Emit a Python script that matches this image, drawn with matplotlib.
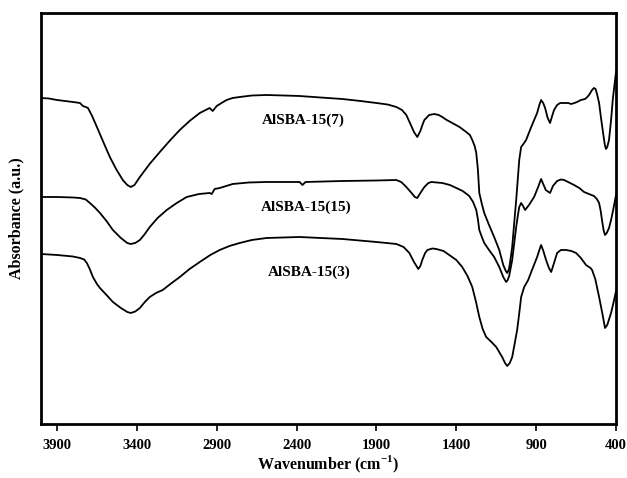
import matplotlib
matplotlib.use('Agg')
import matplotlib.pyplot as plt

plt.rcParams['font.family'] = 'Liberation Serif'
plt.rcParams['font.weight'] = 'bold'
plt.rcParams['mathtext.fontset'] = 'custom'
plt.rcParams['mathtext.rm'] = 'Liberation Serif:bold'
plt.rcParams['mathtext.bf'] = 'Liberation Serif:bold'

# AlSBA-15(7) - top trace
wn_7 = [4000, 3950, 3900, 3850, 3800, 3756, 3738, 3720, 3706, 3680, 3650, 3610, 3569,
        3530, 3488, 3460, 3438, 3415, 3381, 3320, 3256, 3190, 3131, 3070, 3006, 2944,
        2925, 2900, 2870, 2838, 2800, 2756, 2680, 2588, 2480, 2381, 2250, 2113, 2000,
        1900, 1830, 1775, 1740, 1713, 1690, 1665, 1644, 1625, 1610, 1600, 1570, 1538,
        1510, 1488, 1460, 1425, 1380, 1338, 1315, 1300, 1285, 1275, 1265, 1256, 1240,
        1225, 1195, 1163, 1131, 1106, 1090, 1081, 1070, 1063, 1050, 1038, 1025, 1015,
        1006, 994, 980, 963, 931, 910, 894, 880, 869, 856, 844, 828, 813, 800, 788,
        769, 750, 725, 700, 681, 660, 644, 620, 594, 580, 569, 550, 538, 528, 519, 506,
        494, 481, 470, 463, 455, 444, 431, 420, 406, 400]
abs_7 = [3.26, 3.255, 3.24, 3.23, 3.22, 3.21, 3.18, 3.17, 3.16, 3.08, 2.97, 2.82, 2.67,
         2.55, 2.44, 2.39, 2.37, 2.39, 2.47, 2.60, 2.72, 2.84, 2.94, 3.03, 3.11, 3.16,
         3.13, 3.18, 3.21, 3.24, 3.26, 3.27, 3.285, 3.29, 3.285, 3.28, 3.265, 3.25, 3.23,
         3.21, 3.195, 3.17, 3.14, 3.09, 3.01, 2.92, 2.87, 2.93, 3.00, 3.04, 3.09, 3.10,
         3.09, 3.07, 3.04, 3.01, 2.97, 2.92, 2.89, 2.84, 2.78, 2.71, 2.55, 2.31, 2.20,
         2.11, 1.99, 1.87, 1.74, 1.59, 1.53, 1.51, 1.55, 1.62, 1.77, 2.00, 2.24, 2.45,
         2.64, 2.77, 2.80, 2.84, 2.97, 3.05, 3.11, 3.19, 3.24, 3.21, 3.16, 3.06, 3.01,
         3.08, 3.14, 3.19, 3.21, 3.21, 3.21, 3.20, 3.21, 3.22, 3.24, 3.25, 3.27, 3.29,
         3.34, 3.36, 3.35, 3.30, 3.21, 3.06, 2.91, 2.79, 2.75, 2.77, 2.84, 3.04, 3.25,
         3.44, 3.52]

# AlSBA-15(15) - middle trace
wn_15 = [4000, 3900, 3800, 3756, 3720, 3694, 3660, 3631, 3590, 3550, 3500, 3460, 3438,
         3410, 3381, 3350, 3319, 3270, 3213, 3150, 3088, 3010, 2944, 2931, 2913, 2881,
         2800, 2700, 2588, 2381, 2363, 2344, 2113, 1900, 1775, 1745, 1713, 1680, 1660,
         1644, 1625, 1600, 1575, 1556, 1488, 1440, 1400, 1360, 1319, 1295, 1275, 1265,
         1256, 1240, 1225, 1195, 1163, 1131, 1106, 1088, 1078, 1069, 1050, 1038, 1025,
         1015, 1006, 994, 982, 969, 945, 913, 890, 869, 856, 840, 813, 795, 769, 745,
         725, 700, 663, 630, 600, 570, 538, 520, 506, 496, 488, 478, 469, 458, 444, 431,
         418, 406, 400]
abs_15 = [2.27, 2.27, 2.265, 2.26, 2.245, 2.21, 2.16, 2.11, 2.03, 1.94, 1.86, 1.81, 1.80,
          1.81, 1.84, 1.90, 1.97, 2.06, 2.14, 2.21, 2.27, 2.30, 2.31, 2.30, 2.35, 2.36,
          2.40, 2.415, 2.42, 2.42, 2.39, 2.42, 2.43, 2.435, 2.44, 2.42, 2.37, 2.31, 2.27,
          2.26, 2.31, 2.37, 2.41, 2.42, 2.41, 2.39, 2.36, 2.33, 2.28, 2.22, 2.14, 2.05,
          1.94, 1.87, 1.81, 1.74, 1.67, 1.57, 1.47, 1.42, 1.44, 1.48, 1.64, 1.80, 1.97,
          2.08, 2.17, 2.21, 2.18, 2.14, 2.19, 2.27, 2.36, 2.45, 2.40, 2.34, 2.31, 2.38,
          2.43, 2.445, 2.44, 2.42, 2.39, 2.36, 2.32, 2.30, 2.28, 2.25, 2.21, 2.13, 2.04,
          1.94, 1.89, 1.91, 1.96, 2.04, 2.14, 2.24, 2.29]

# AlSBA-15(3) - bottom trace
wn_3 = [4000, 3900, 3800, 3756, 3730, 3713, 3695, 3675, 3650, 3631, 3590, 3550, 3500,
        3460, 3438, 3410, 3381, 3350, 3319, 3280, 3238, 3190, 3131, 3070, 3006, 2940,
        2881, 2820, 2756, 2680, 2588, 2381, 2250, 2113, 1900, 1775, 1730, 1694, 1665,
        1638, 1625, 1613, 1595, 1581, 1550, 1525, 1480, 1444, 1400, 1363, 1330, 1300,
        1275, 1256, 1235, 1213, 1180, 1150, 1113, 1095, 1081, 1065, 1050, 1035, 1019,
        1005, 994, 975, 950, 931, 894, 880, 869, 855, 838, 820, 806, 790, 769, 745, 713,
        680, 650, 620, 588, 560, 550, 530, 506, 485, 469, 455, 431, 415, 400]
abs_3 = [1.70, 1.69, 1.675, 1.66, 1.645, 1.61, 1.55, 1.47, 1.40, 1.36, 1.29, 1.22, 1.16,
         1.12, 1.11, 1.125, 1.16, 1.22, 1.27, 1.31, 1.34, 1.40, 1.47, 1.55, 1.62, 1.69,
         1.74, 1.78, 1.81, 1.84, 1.86, 1.87, 1.86, 1.85, 1.82, 1.80, 1.77, 1.71, 1.62,
         1.55, 1.58, 1.64, 1.71, 1.74, 1.755, 1.75, 1.73, 1.69, 1.64, 1.57, 1.48, 1.37,
         1.21, 1.07, 0.95, 0.87, 0.82, 0.77, 0.67, 0.61, 0.58, 0.61, 0.67, 0.80, 0.94,
         1.12, 1.27, 1.37, 1.44, 1.52, 1.67, 1.74, 1.79, 1.73, 1.64, 1.56, 1.52, 1.60,
         1.71, 1.74, 1.74, 1.73, 1.71, 1.66, 1.59, 1.56, 1.54, 1.45, 1.27, 1.10, 0.96,
         0.99, 1.11, 1.22, 1.33]

labels = ['AlSBA-15(7)', 'AlSBA-15(15)', 'AlSBA-15(3)']
label_pos = [(2356, 3.04), (2337, 2.17), (2319, 1.52)]
xticks = [3900, 3400, 2900, 2400, 1900, 1400, 900, 400]

fig = plt.figure(figsize=(6.27, 4.78), dpi=100)
ax = fig.add_axes([0.0654, 0.113, 0.9171, 0.8598])

for wn, ab in [(wn_7, abs_7), (wn_15, abs_15), (wn_3, abs_3)]:
    ax.plot(wn, ab, color='black', lw=1.3, solid_joinstyle='round')

for text, (x, y) in zip(labels, label_pos):
    ax.text(x, y, text, ha='center', va='center', fontsize=11, fontweight='bold')

ax.set_xlim(4000, 400)
ax.set_ylim(0, 4.11)
ax.set_xticks(xticks)
ax.set_xticklabels([str(t) for t in xticks], fontsize=10.5, fontweight='bold')
ax.set_yticks([])
ax.tick_params(axis='x', direction='out', length=5, width=1.2, pad=6)
for s in ax.spines.values():
    s.set_linewidth(2)

ax.set_xlabel('Wavenumber (cm$^{\\mathbf{-1}}$)', fontsize=11.5, fontweight='bold', labelpad=1)
ax.set_ylabel('Absorbance (a.u.)', fontsize=11.5, fontweight='bold', labelpad=12)

fig.savefig('out.png', dpi=100)
